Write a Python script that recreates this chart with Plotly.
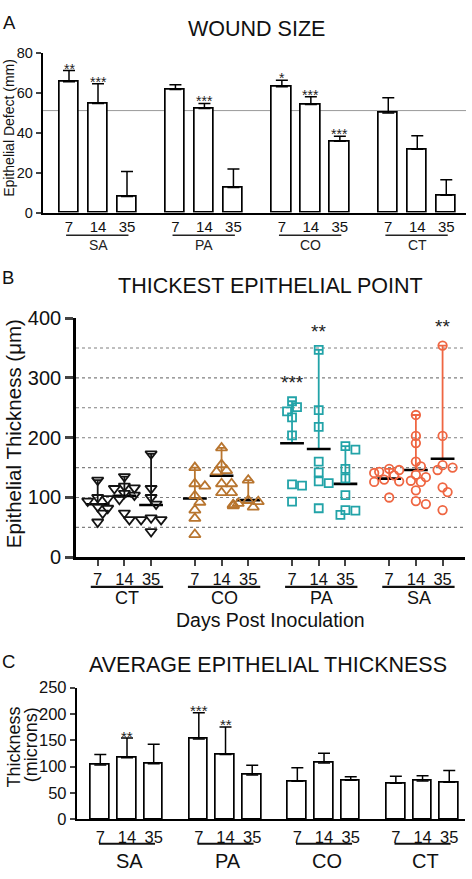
import plotly.graph_objects as go

FONT = "Liberation Sans, Arial, sans-serif"
W, H = 472, 879

days = ["7", "14", "35"]

# ---------------- Panel A: WOUND SIZE ----------------
groups_A = ["SA", "PA", "CO", "CT"]
wound_SA = [65.4, 54.6, 8.0]
wound_PA = [61.6, 52.0, 12.5]
wound_CO = [62.9, 54.0, 35.6]
wound_CT = [49.8, 31.6, 8.6]
wound_SA_err = [5.6, 9.8, 12.5]
wound_PA_err = [2.3, 2.6, 9.3]
wound_CO_err = [3.3, 3.9, 2.6]
wound_CT_err = [7.6, 6.8, 7.8]
wound_stars = ["**", "***", "", "", "***", "", "*", "***", "***", "", "", ""]
wound_ref = 51

# ---------------- Panel B: THICKEST EPITHELIAL POINT ----------------
groups_B = ["CT", "CO", "PA", "SA"]
CT_7 = [129, 100, 98, 94, 85, 82, 74, 59]
CT_14 = [135, 119, 116, 115, 107, 104, 97, 74, 63]
CT_35 = [173, 115, 100, 89, 66, 63, 63, 43]
CO_7 = [150, 123, 119, 103, 92, 79, 65, 38]
CO_14 = [183, 155, 145, 143, 123, 123, 108, 108]
CO_35 = [129, 95, 93, 90, 88, 87, 86, 84]
PA_7 = [261, 251, 244, 234, 204, 122, 120, 93]
PA_14 = [347, 246, 218, 160, 142, 127, 124, 82]
PA_35 = [186, 180, 148, 132, 104, 79, 78, 71]
SA_7 = [148, 146, 143, 141, 137, 130, 127, 126, 100]
SA_14 = [238, 203, 191, 160, 152, 138, 134, 128, 126, 112, 94, 89]
SA_35 = [354, 203, 154, 150, 146, 117, 109, 79]
mean_CT = [88.6, 102.7, 87.5]
mean_CO = [98.4, 136.4, 95.6]
mean_PA = [190.8, 181.0, 122.8]
mean_SA = [131.5, 146.0, 164.7]
thick_stars = ["", "", "", "", "", "", "***", "**", "", "", "", "**"]
grid_B = [50, 100, 150, 200, 250, 300, 350]

# ---------------- Panel C: AVERAGE EPITHELIAL THICKNESS ----------------
groups_C = ["SA", "PA", "CO", "CT"]
avg_SA = [103.0, 116.7, 105.6]
avg_PA = [152.5, 122.8, 84.0]
avg_CO = [72.2, 106.8, 74.0]
avg_CT = [68.5, 72.8, 70.4]
avg_SA_err = [19.8, 37.6, 37.0]
avg_PA_err = [50.0, 52.5, 18.5]
avg_CO_err = [25.8, 18.5, 6.9]
avg_CT_err = [13.0, 9.9, 22.2]
avg_stars = ["", "**", "", "***", "**", "", "", "", "", "", "", ""]

colors_B = {"CT": "#141414", "CO": "#B8752F", "PA": "#22A3A8", "SA": "#EF6642"}
symbols_B = {"CT": "triangle-down-open", "CO": "triangle-up-open",
             "PA": "square-open", "SA": "circle-open"}
sizes_B = {"CT": 10, "CO": 10, "PA": 8, "SA": 8.5}


def ypap(px):
    return 1 - px / H


def xpap(px):
    return px / W


fig = go.Figure()
shapes = []
ann = []

# ===== Panel A =====
gapA = 3.67
xA = [g * gapA + d for g in range(4) for d in range(3)]
yA = wound_SA + wound_PA + wound_CO + wound_CT
eA = wound_SA_err + wound_PA_err + wound_CO_err + wound_CT_err
fig.add_trace(go.Bar(
    x=xA, y=yA, width=0.67, xaxis="x", yaxis="y",
    marker=dict(color="white", line=dict(color="black", width=1.7)),
    error_y=dict(type="data", symmetric=False, array=eA, arrayminus=[0] * 12,
                 color="black", thickness=1.5, width=6),
    showlegend=False, hoverinfo="skip"))
shapes.append(dict(type="line", xref="x domain", x0=0, x1=1, yref="y",
                   y0=wound_ref, y1=wound_ref, layer="below",
                   line=dict(color="#9a9a9a", width=1)))
for xi, yi, ei, s in zip(xA, yA, eA, wound_stars):
    if s:
        ann.append(dict(x=xi, y=yi + ei, xref="x", yref="y", text=s, showarrow=False,
                        yanchor="middle", yshift=2, font=dict(size=14, color="#222")))
for g, name in enumerate(groups_A):
    x0 = g * gapA
    shapes.append(dict(type="line", xref="x", x0=x0 - 0.1, x1=x0 + 2.05, yref="paper",
                       y0=ypap(230), y1=ypap(230), line=dict(color="#222", width=1.6)))
    ann.append(dict(x=x0 + 1, y=ypap(239.5), xref="x", yref="paper", text=name,
                    showarrow=False, yanchor="middle", font=dict(size=14, color="#222")))

# ===== Panel B =====
gapB = 3.64
rangeB = [-0.813, 13.76]
ppx_B = (465 - 76) / (rangeB[1] - rangeB[0])
ppy_B = (560.3 - 315) / 400.0


def swarm(vals, xc, step_px=5.0, dist_px=7.0):
    placed = []
    out = [0.0] * len(vals)
    order = sorted(range(len(vals)), key=lambda i: -vals[i])
    for i in order:
        yv = vals[i] * ppy_B
        xo = 0.0
        for k in [0, 1, -1, 2, -2, 3, -3]:
            xo = k * step_px
            if all((xo - a) ** 2 + (yv - b) ** 2 >= dist_px ** 2 for a, b in placed):
                break
        placed.append((xo, yv))
        out[i] = xc + xo / ppx_B
    return out


data_B = {"CT": [CT_7, CT_14, CT_35], "CO": [CO_7, CO_14, CO_35],
          "PA": [PA_7, PA_14, PA_35], "SA": [SA_7, SA_14, SA_35]}
means_B = {"CT": mean_CT, "CO": mean_CO, "PA": mean_PA, "SA": mean_SA}
xB = [g * gapB + d for g in range(4) for d in range(3)]

for yv in grid_B:
    shapes.append(dict(type="line", xref="x2 domain", x0=0, x1=1, yref="y2",
                       y0=yv, y1=yv, layer="below",
                       line=dict(color="#808080", width=1.1, dash="dot")))

for g, name in enumerate(groups_B):
    col = colors_B[name]
    xs, ys = [], []
    xm = []
    tops = []
    for d in range(3):
        xc = g * gapB + d
        vals = data_B[name][d]
        xs += swarm(vals, xc)
        ys += vals
        xm.append(xc)
        tops.append(max(vals))
    mvals = means_B[name]
    fig.add_trace(go.Scatter(
        x=xm, y=mvals, mode="markers", xaxis="x2", yaxis="y2",
        marker=dict(symbol="line-ew", size=17, color="black",
                    line=dict(color="black", width=2.6)),
        error_y=dict(type="data", symmetric=False,
                     array=[t - m for t, m in zip(tops, mvals)], arrayminus=[0, 0, 0],
                     color=col, thickness=1.8, width=4),
        showlegend=False, hoverinfo="skip"))
    fig.add_trace(go.Scatter(
        x=xs, y=ys, mode="markers", xaxis="x2", yaxis="y2",
        marker=dict(symbol=symbols_B[name], size=sizes_B[name], color=col,
                    line=dict(color=col, width=1.8)),
        showlegend=False, hoverinfo="skip"))
    for d in range(3):
        s = thick_stars[g * 3 + d]
        if s:
            ann.append(dict(x=xm[d], y=tops[d] + 38, xref="x2", yref="y2", text=s,
                            showarrow=False, yanchor="middle", yshift=-4,
                            font=dict(size=19, color="#222")))
    x0 = g * gapB
    shapes.append(dict(type="line", xref="x2", x0=x0 - 0.26, x1=x0 + 2.45, yref="paper",
                       y0=ypap(590.7), y1=ypap(590.7), line=dict(color="#111", width=2.2)))
    ann.append(dict(x=x0 + 1.1, y=ypap(602), xref="x2", yref="paper", text=name,
                    showarrow=False, yanchor="middle", font=dict(size=18, color="#111")))

ann.append(dict(x=xpap(270), y=ypap(624.5), xref="paper", yref="paper",
                text="Days Post Inoculation", showarrow=False, yanchor="middle",
                font=dict(size=19.5, color="#111")))

# ===== Panel C =====
gapC = 3.69
xC = [g * gapC + d for g in range(4) for d in range(3)]
yC = avg_SA + avg_PA + avg_CO + avg_CT
eC = avg_SA_err + avg_PA_err + avg_CO_err + avg_CT_err
fig.add_trace(go.Bar(
    x=xC, y=yC, width=0.70, xaxis="x3", yaxis="y3",
    marker=dict(color="white", line=dict(color="black", width=1.7)),
    error_y=dict(type="data", symmetric=False, array=eC, arrayminus=[0] * 12,
                 color="black", thickness=1.5, width=6),
    showlegend=False, hoverinfo="skip"))
for xi, yi, ei, s in zip(xC, yC, eC, avg_stars):
    if s:
        ann.append(dict(x=xi, y=yi + ei, xref="x3", yref="y3", text=s, showarrow=False,
                        yanchor="middle", yshift=2, font=dict(size=15, color="#222")))
for g, name in enumerate(groups_C):
    x0 = g * gapC
    shapes.append(dict(type="line", xref="x3", x0=x0 - 0.05, x1=x0 + 2.05, yref="paper",
                       y0=ypap(854), y1=ypap(854), line=dict(color="#111", width=2)))
    ann.append(dict(x=x0 + 1.1, y=ypap(871.5), xref="x3", yref="paper", text=name,
                    showarrow=False, yanchor="middle", font=dict(size=20, color="#111")))

# ===== titles, panel letters, axis titles =====
ann += [
    dict(x=xpap(256), y=ypap(18), text="WOUND SIZE", font=dict(size=21.5)),
    dict(x=xpap(270), y=ypap(282.5), text="THICKEST EPITHELIAL POINT", font=dict(size=21.5)),
    dict(x=xpap(268), y=ypap(671), text="AVERAGE EPITHELIAL THICKNESS", font=dict(size=21.5)),
    dict(x=xpap(9), y=ypap(11.7), text="A", font=dict(size=18.5)),
    dict(x=xpap(8), y=ypap(273), text="B", font=dict(size=18.5)),
    dict(x=xpap(8), y=ypap(667), text="C", font=dict(size=18.5)),
    dict(x=xpap(8.8), y=ypap(120), text="Epithelial Defect (mm)", textangle=-90,
         font=dict(size=14)),
    dict(x=xpap(13), y=ypap(434), text="Epithelial Thickness (μm)", textangle=-90,
         font=dict(size=20.5)),
    dict(x=xpap(13.8), y=ypap(754.5), text="Thickness", textangle=-90, font=dict(size=18)),
    dict(x=xpap(30.5), y=ypap(752.5), text="(microns)", textangle=-90, font=dict(size=18)),
]
for a in ann[-10:]:
    a.update(xref="paper", yref="paper", showarrow=False, xanchor="center", yanchor="middle")
    a["font"].update(color="#111")

axis_common = dict(showgrid=False, zeroline=False, showline=True, linecolor="black",
                   fixedrange=True)

fig.update_layout(
    width=W, height=H, margin=dict(l=0, r=0, t=0, b=0),
    paper_bgcolor="white", plot_bgcolor="white",
    font=dict(family=FONT, color="#111"),
    shapes=shapes, annotations=ann, bargap=0,
    xaxis=dict(domain=[xpap(42.7), xpap(466)], range=[-0.907, 13.69], anchor="y",
               tickvals=xA, ticktext=days * 4, ticks="", tickfont=dict(size=15),
               linewidth=1.7, ticklabelstandoff=0, **axis_common),
    yaxis=dict(domain=[ypap(206.7), ypap(42.7)], range=[0, 80], anchor="x",
               tickvals=[0, 20, 40, 60, 80], ticks="outside", ticklen=5, tickwidth=1.6,
               tickfont=dict(size=14.5), linewidth=1.7, **axis_common),
    xaxis2=dict(domain=[xpap(76), xpap(465)], range=rangeB, anchor="y2",
                tickvals=xB, ticktext=days * 4, ticks="outside", ticklen=6, tickwidth=2,
                tickfont=dict(size=16.5), linewidth=2.6, ticklabelstandoff=-1,
                **axis_common),
    yaxis2=dict(domain=[ypap(560.3), ypap(315)], range=[0, 400], anchor="x2",
                tickvals=[0, 100, 200, 300, 400], ticks="outside", ticklen=8, tickwidth=2.6,
                tickfont=dict(size=20), linewidth=2.6, **axis_common),
    xaxis3=dict(domain=[xpap(76.7), xpap(465)], range=[-0.884, 13.66], anchor="y3",
                tickvals=xC, ticktext=days * 4, ticks="", tickfont=dict(size=16.5),
                linewidth=1.7, ticklabelstandoff=2, **axis_common),
    yaxis3=dict(domain=[ypap(829), ypap(694)], range=[0, 250], anchor="x3",
                tickvals=[0, 50, 100, 150, 200, 250], ticks="outside", ticklen=5,
                tickwidth=1.6, tickfont=dict(size=16.5), linewidth=1.7, **axis_common),
)

fig.write_html("out.html", config={"displayModeBar": False},
               post_script="document.body.style.margin='0';document.documentElement.style.overflow='hidden';")
